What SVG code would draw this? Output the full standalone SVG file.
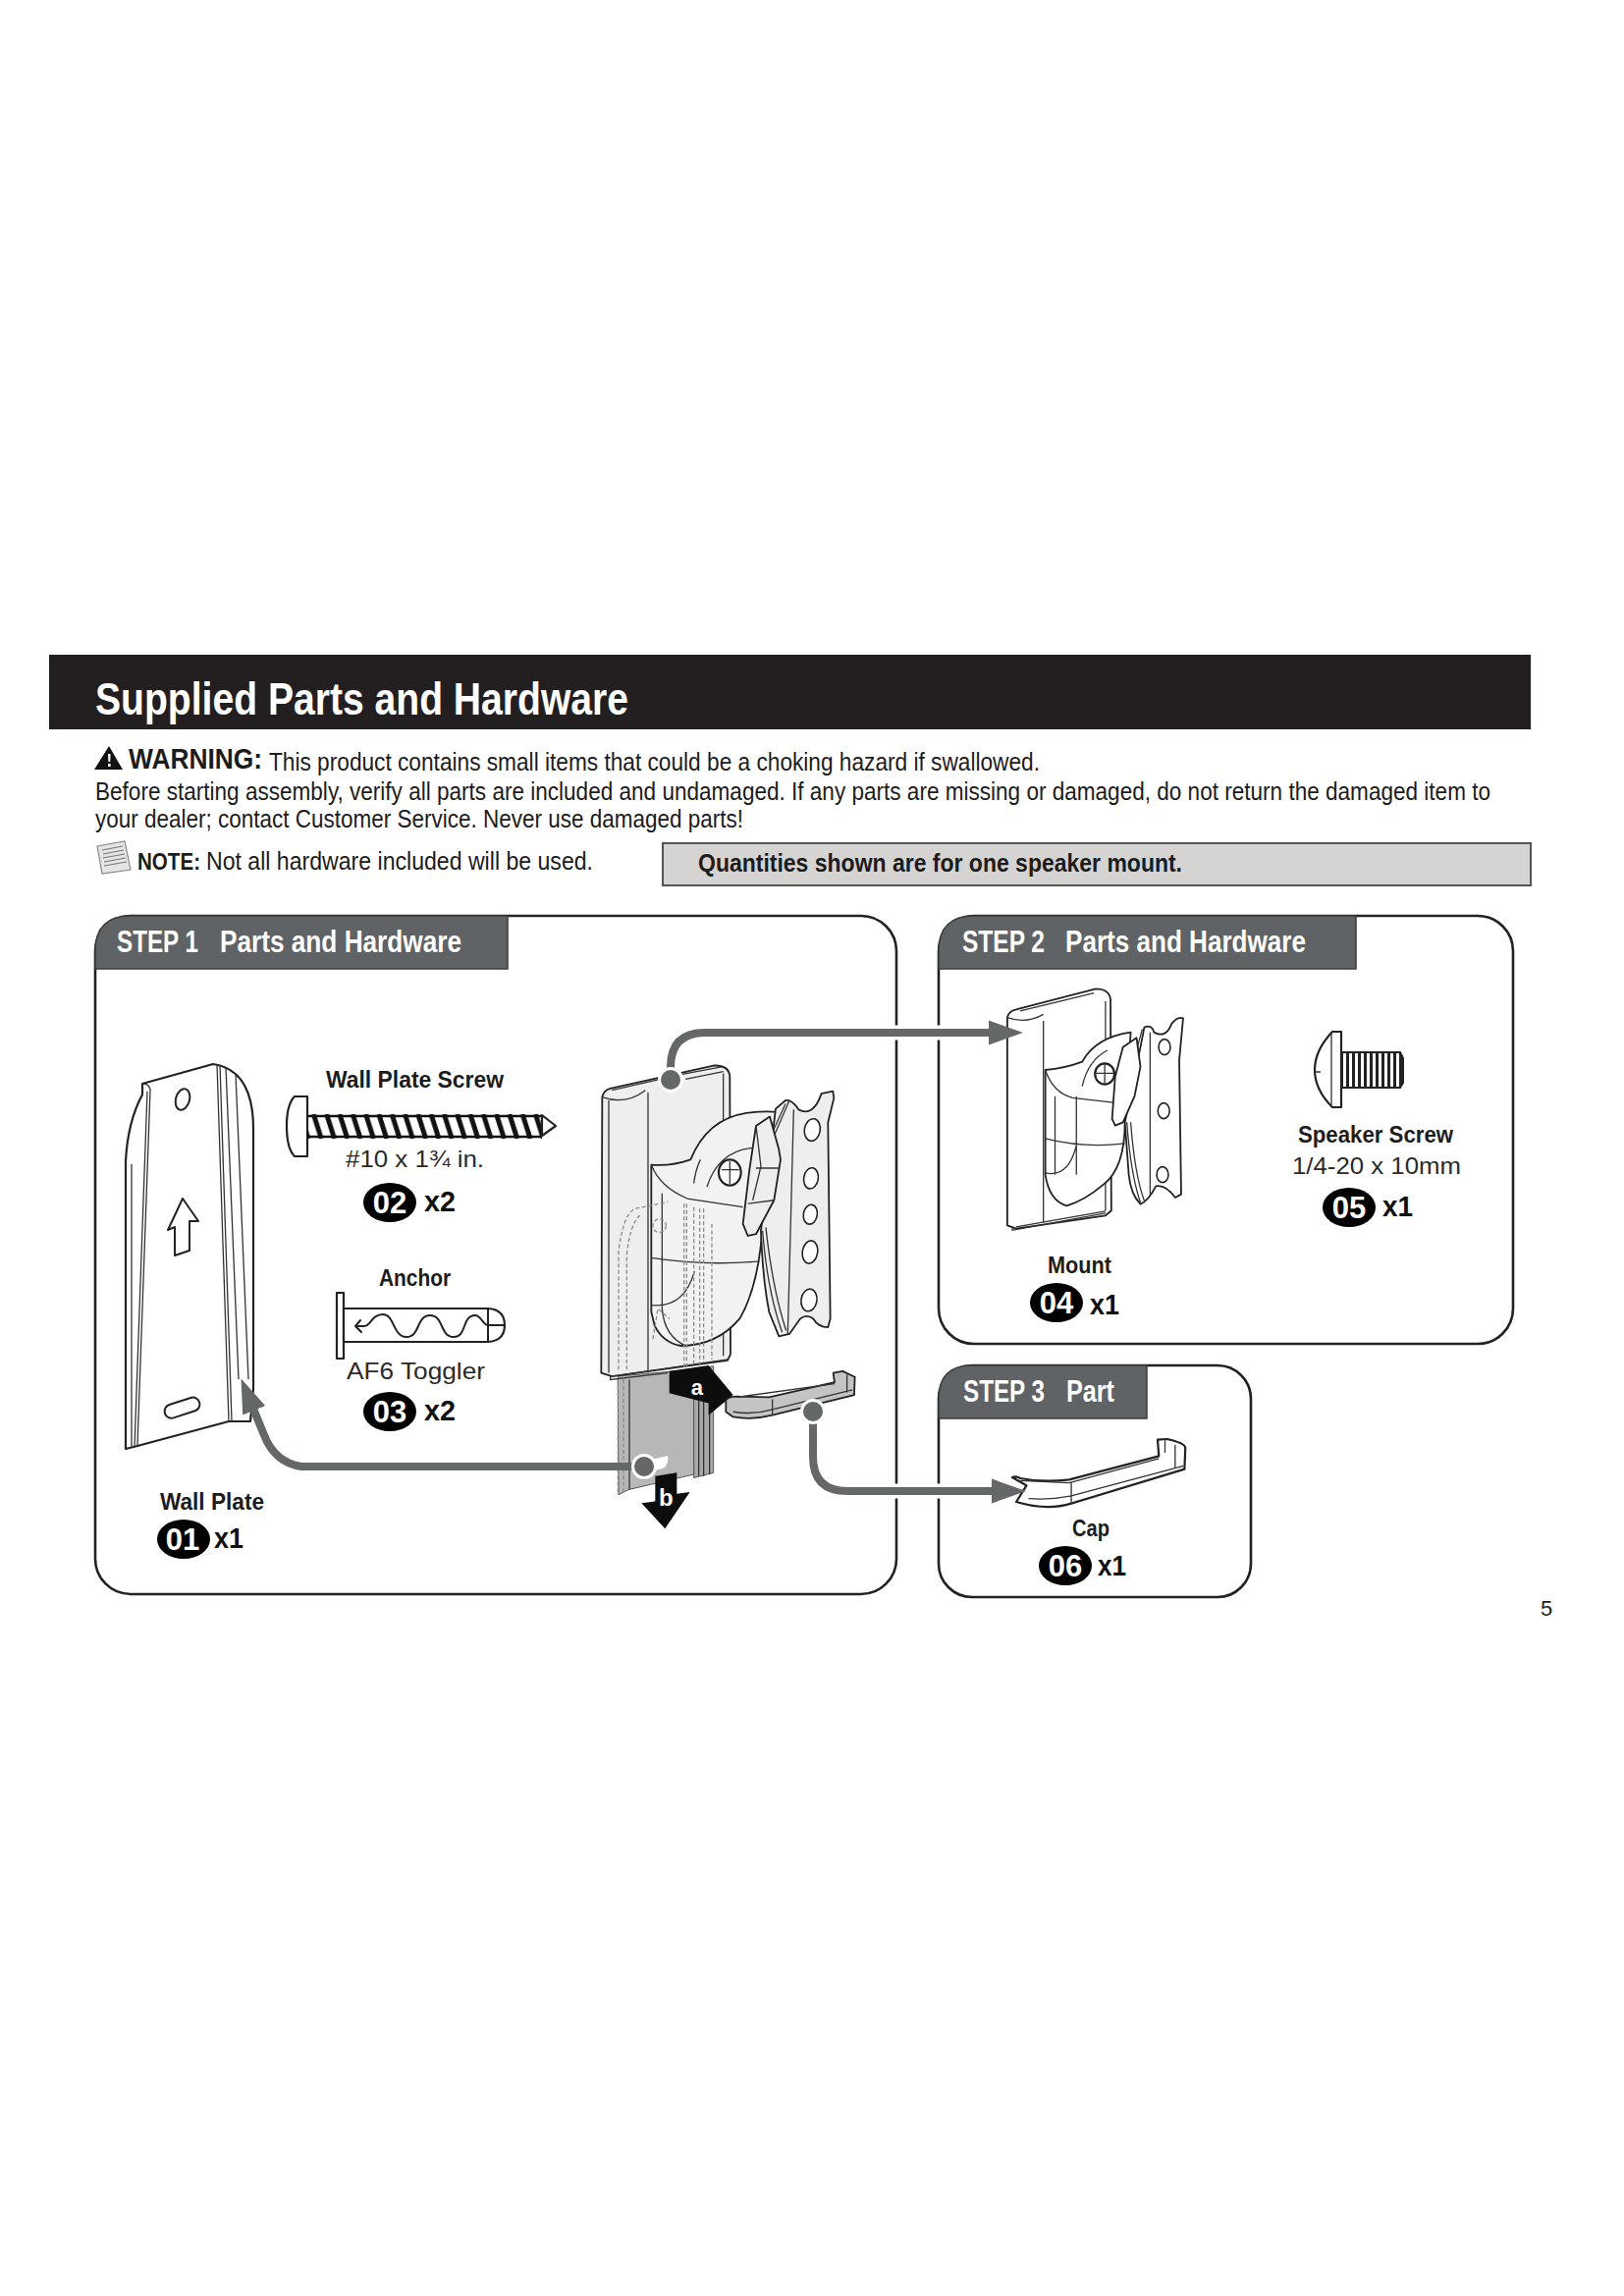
<svg xmlns="http://www.w3.org/2000/svg" width="1654" height="2339" viewBox="0 0 1654 2339">
<style>
text{font-family:"Liberation Sans",Arial,sans-serif;fill:#1c1c1c}
.b{font-weight:700}
.w{fill:#fff;font-weight:700}
.title{font-size:46px}
.body{font-size:23.5px}
.tabt{font-size:32px}
.lab{font-size:24px;font-weight:700}
.sub{font-size:24px;fill:#2a2a2a}
.num{font-size:31px;font-weight:700;fill:#fff;text-anchor:middle}
.qty{font-size:30px;font-weight:700;fill:#111}
.panel{fill:#fff;stroke:#222;stroke-width:2.6}
.tab{fill:#5f6365;stroke:#3a3c3d;stroke-width:1.5}
.badge{fill:#000}
.ln{fill:none;stroke:#222;stroke-width:2;stroke-linejoin:round;stroke-linecap:round}
.thin{fill:none;stroke:#333;stroke-width:1.3}
.pl{fill:#fff;stroke:#222;stroke-width:2.2;stroke-linejoin:round}
.m{fill:#eeeeee;stroke:#222;stroke-width:1.8;stroke-linejoin:round}
.dash{fill:none;stroke:#8a8a8a;stroke-width:1.3;stroke-dasharray:4 2.5}
.halo{fill:none;stroke:#fff;stroke-width:15}
.conn{fill:none;stroke:#646869;stroke-width:8}
.dot{fill:#646869;stroke:#fff;stroke-width:3}
#mount-assembly path,#mount-assembly ellipse,#mount-assembly circle,#mount path,#mount ellipse,#cap path{vector-effect:non-scaling-stroke}
</style>
<defs>
<marker id="ah" markerUnits="userSpaceOnUse" markerWidth="36" markerHeight="28" refX="2" refY="14" orient="auto">
<path d="M0,1.5L35,14L0,26.5Z" fill="#646869"/>
</marker>
<pattern id="thread" patternUnits="userSpaceOnUse" x="313" y="1135" width="13.3" height="25">
<path d="M-7,0L1,25M6.3,0L14.3,25" stroke="#111" stroke-width="5" fill="none"/>
</pattern>
<pattern id="mthread" patternUnits="userSpaceOnUse" x="1371" y="1070" width="6" height="40">
<rect width="6" height="40" fill="#fff"/><rect width="3" height="40" fill="#222"/>
</pattern>
</defs>
<rect width="1654" height="2339" fill="#fff"/>

<g id="header">
<rect x="50" y="667" width="1509" height="76" fill="#231f20"/>
<text class="title b" x="97" y="728" style="fill:#fff" textLength="543" lengthAdjust="spacingAndGlyphs">Supplied Parts and Hardware</text>
</g>

<g id="warning">
<path d="M111,760L125,784H96Z" fill="#111"/><path d="M110,768h2.6l-.4,8h-1.8ZM110,778h2.6v3h-2.6Z" fill="#fff"/>
<text class="b" transform="translate(131 783) scale(1 1.16)" font-size="26" textLength="136" lengthAdjust="spacingAndGlyphs">WARNING:</text>
<text class="body" transform="translate(274 785) scale(1 1.06)" textLength="785" lengthAdjust="spacingAndGlyphs">This product contains small items that could be a choking hazard if swallowed.</text>
<text class="body" transform="translate(97 815) scale(1 1.06)" textLength="1421" lengthAdjust="spacingAndGlyphs">Before starting assembly, verify all parts are included and undamaged. If any parts are missing or damaged, do not return the damaged item to</text>
<text class="body" transform="translate(97 843) scale(1 1.06)" textLength="660" lengthAdjust="spacingAndGlyphs">your dealer; contact Customer Service. Never use damaged parts!</text>
</g>

<g id="note">
<path d="M99,862L127,857L133,886L104,890Z" fill="#e4e4e4" stroke="#888" stroke-width="1.2"/>
<path d="M104,866L125,862M105,870L126,866M105,874L127,870M106,878L128,874M106,882L129,878" stroke="#777" stroke-width="1.2" fill="none"/>
<text class="b" transform="translate(140 886) scale(1 1.2)" font-size="20.5" textLength="64" lengthAdjust="spacingAndGlyphs">NOTE:</text>
<text class="body" transform="translate(210 886) scale(1 1.06)" textLength="394" lengthAdjust="spacingAndGlyphs">Not all hardware included will be used.</text>
</g>

<g id="quantities">
<rect x="675" y="859" width="884" height="43" fill="#d6d4d2" stroke="#555" stroke-width="2"/>
<text class="b" x="711" y="888" font-size="25" textLength="493" lengthAdjust="spacingAndGlyphs">Quantities shown are for one speaker mount.</text>
</g>

<g id="step1">
<rect class="panel" x="97" y="933" width="816" height="691" rx="36"/>
<path class="tab" d="M97,987V969Q97,933 133,933H517V987Z"/>
<text class="w tabt" x="119" y="970" textLength="83" lengthAdjust="spacingAndGlyphs">STEP 1</text>
<text class="w tabt" x="224" y="970" textLength="246" lengthAdjust="spacingAndGlyphs">Parts and Hardware</text>
</g>
<g id="step2">
<rect class="panel" x="956" y="933" width="585" height="436" rx="36"/>
<path class="tab" d="M956,987V969Q956,933 992,933H1381V987Z"/>
<text class="w tabt" x="980" y="970" textLength="84" lengthAdjust="spacingAndGlyphs">STEP 2</text>
<text class="w tabt" x="1085" y="970" textLength="245" lengthAdjust="spacingAndGlyphs">Parts and Hardware</text>
</g>
<g id="step3">
<rect class="panel" x="956" y="1391" width="318" height="236" rx="34"/>
<path class="tab" d="M956,1445V1425Q956,1391 990,1391H1168V1445Z"/>
<text class="w tabt" x="981" y="1428" textLength="83" lengthAdjust="spacingAndGlyphs">STEP 3</text>
<text class="w tabt" x="1086" y="1428" textLength="49" lengthAdjust="spacingAndGlyphs">Part</text>
</g>

<g id="wall-plate">
<path class="pl" d="M145,1104L217,1084Q258,1090 258,1150V1415L255,1448H233L140,1473L128,1476V1183Q130,1143 145,1115Z"/>
<path class="thin" d="M153,1110L140,1472M150,1112L137,1474M134,1186V1475M221,1084L233,1448M224,1085L236,1448M230,1087L243,1405M240,1094L253,1405M145,1104Q152,1104 153,1110"/>
<ellipse class="ln" cx="186" cy="1120" rx="7" ry="11" transform="rotate(15 186 1120)"/>
<path class="ln" d="M186,1221L202,1244H193V1274L178,1279V1250L171,1253Z"/>
<rect class="ln" x="167" y="1427" width="37" height="14" rx="7" transform="rotate(-18 186 1434)"/>
<text class="lab" x="163" y="1538" textLength="106" lengthAdjust="spacingAndGlyphs">Wall Plate</text>
<ellipse class="badge" cx="187" cy="1568" rx="27" ry="20"/>
<text class="num" x="186" y="1579">01</text>
<text class="qty" x="218" y="1577" textLength="30" lengthAdjust="spacingAndGlyphs">x1</text>
</g>

<g id="wall-plate-screw">
<text class="lab" x="332" y="1108" textLength="181" lengthAdjust="spacingAndGlyphs">Wall Plate Screw</text>
<path class="pl" d="M313,1117H300Q292,1125 292,1147Q292,1170 300,1178H313Z"/>
<rect x="313" y="1135" width="239" height="25" fill="url(#thread)"/>
<path d="M313,1137H552M313,1158H552" stroke="#111" stroke-width="2.5"/>
<path class="pl" d="M552,1136L566,1147L552,1157Z" stroke-width="1.8"/>
<text class="sub" x="352" y="1189" textLength="141" lengthAdjust="spacingAndGlyphs">#10 x 1¾ in.</text>
<ellipse class="badge" cx="397" cy="1225" rx="27" ry="20"/>
<text class="num" x="397" y="1236">02</text>
<text class="qty" x="432" y="1234" textLength="32" lengthAdjust="spacingAndGlyphs">x2</text>
</g>

<g id="anchor">
<text class="lab" x="386" y="1310" textLength="73" lengthAdjust="spacingAndGlyphs">Anchor</text>
<rect class="pl" x="343" y="1317" width="7" height="67"/>
<path class="pl" d="M350,1333H497Q514,1334 514,1350Q514,1366 497,1367H350Z"/>
<path class="ln" d="M497,1333V1367M497,1350H514M367,1345L362,1351L368,1357M364,1351H371C378,1351 378,1339 390,1339C402,1339 400,1362 414,1362C428,1362 424,1340 438,1340C452,1340 448,1362 462,1362C476,1362 470,1340 484,1340C490,1340 492,1350 497,1350"/>
<text class="sub" x="353" y="1405" textLength="141" lengthAdjust="spacingAndGlyphs">AF6 Toggler</text>
<ellipse class="badge" cx="397" cy="1438" rx="27" ry="20"/>
<text class="num" x="397" y="1449">03</text>
<text class="qty" x="432" y="1447" textLength="32" lengthAdjust="spacingAndGlyphs">x2</text>
</g>

<g id="mount-assembly" transform="translate(580 1040) scale(.3333 .3448)">
<path d="M148,1050L380,1030V1340L180,1385L150,1400Z" fill="#b7b7b7" stroke="#555" stroke-width="1"/>
<path d="M380,1030L440,1020V1335L380,1350Z" fill="#a8a8a8" stroke="#555" stroke-width="1"/>
<path class="thin" d="M183,1060V1385M395,1025V1345M410,1025V1345M428,1022V1340"/>
<path d="M148,1060V1400M165,1060V1395" class="dash"/>
<path d="M255,1295L300,1285Q305,1305 290,1320L240,1335Z" fill="#fff"/>
<path class="m" d="M100,225Q105,205 125,200L440,132Q488,130 490,165L492,985L483,1003L130,1050L97,1040Z"/>
<path class="thin" d="M100,225Q170,250 232,205M240,212V1040M470,155V990M125,1050V1060L300,1040M120,235V1040M130,205L278,172M345,158L468,135M355,172L470,150M130,1050L483,1000"/>
<path class="m" style="fill:#f2f2f2" d="M250,425Q310,430 370,410Q420,290 540,272Q600,265 640,270L590,600Q580,780 520,880Q450,960 340,960Q285,950 260,900L250,860Z"/>
<path class="thin" d="M250,425Q275,490 360,525L530,550M283,510V850Q290,935 360,962M250,700Q420,725 580,710M250,840Q350,850 382,740M380,480Q385,440 400,410M420,490Q455,385 560,375"/>
<path class="dash" d="M150,1030V680Q165,570 200,555L300,535M175,1030V690Q185,600 215,575M350,540V1030M380,550V1020M410,555V1010M435,600V1000M255,940L270,850L305,880M358,540V1030M398,555V1015"/>
<circle class="dash" cx="275" cy="605" r="20"/>
<path class="m" d="M660,235Q680,232 700,262Q745,285 770,215L805,208L808,228L790,300L797,880L790,905Q760,905 745,880Q725,865 705,880L672,925L640,932L610,860Q590,760 585,620L630,260Z"/>
<path class="thin" d="M685,262L667,925M590,620Q605,800 650,920M600,610Q620,790 662,915M672,235L625,340M660,245L620,330"/>
<path class="m" d="M530,600L550,440L570,310L612,283L640,380L645,410L625,530L570,630L545,635Z"/>
<path class="thin" d="M570,435H640M545,540L625,530M570,310L585,430L560,530"/>
<ellipse class="pl" cx="490" cy="448" rx="34" ry="38"/>
<path class="thin" d="M465,440H518M490,415V482"/>
<g class="pl" style="stroke-width:1.6"><ellipse cx="742" cy="322" rx="24" ry="33" transform="rotate(10 742 322)"/><ellipse cx="738" cy="465" rx="22" ry="31" transform="rotate(10 738 465)"/><ellipse cx="736" cy="572" rx="21" ry="29" transform="rotate(10 736 572)"/><ellipse cx="735" cy="683" rx="23" ry="34" transform="rotate(10 735 683)"/><ellipse cx="732" cy="825" rx="24" ry="33" transform="rotate(10 732 825)"/></g>
<path d="M305,1035L425,1018L500,1105L425,1165V1130L305,1100Z" fill="#0d0d0d"/>
<text x="390" y="1105" class="w" font-size="66" text-anchor="middle" style="fill:#fff">a</text>
<path class="m" style="fill:#c4c4c4" d="M478,1120Q490,1108 520,1110L610,1112L810,1068L806,1040L835,1035L872,1052L870,1105L620,1165Q560,1180 500,1170L478,1155Z"/>
<path class="thin" d="M620,1118V1165M500,1155Q560,1165 620,1148L865,1090M848,1045V1098M510,1112L810,1072"/>
<path d="M262,1345L328,1335V1397L368,1392L292,1500L220,1425L262,1420Z" fill="#0d0d0d"/>
<text x="295" y="1432" class="w" font-size="72" text-anchor="middle" style="fill:#fff">b</text>
</g>

<g id="mount" transform="translate(950 930) scale(.3953 .3333)">
<path class="m" style="fill:#fff" d="M192,320Q195,300 215,295L420,232Q455,232 458,265L460,910L445,925L215,965L192,955Z"/>
<path class="thin" d="M192,320Q240,340 285,310M285,330V945M445,270V910M225,300L415,245M205,960V970L445,918M215,960L445,912"/>
<path class="m" style="fill:#fff" d="M290,480Q340,475 385,455Q420,380 510,365L495,640Q495,780 440,830Q390,880 345,895Q300,880 290,800Z"/>
<path class="thin" d="M290,480Q310,550 360,565L470,580M315,560V800M370,560V800M290,690Q390,720 495,705M290,795Q350,810 370,710M385,530Q400,450 450,420"/>
<path class="m" style="fill:#fff" d="M545,350Q565,340 570,365Q600,385 615,340Q630,315 645,322L635,450L640,860L625,870Q600,830 575,835Q555,880 535,890Q510,860 505,800L495,640L530,440Z"/>
<path class="thin" d="M560,365V860M500,640Q510,800 535,885M510,640Q520,800 545,880M540,355L520,440"/>
<path class="m" style="fill:#fff" d="M462,630L470,500L490,410L525,382L535,470L520,560L490,640L470,650Z"/>
<ellipse class="pl" cx="443" cy="492" rx="25" ry="32"/>
<path class="thin" d="M420,490H466M443,462V522"/>
<g class="pl" style="stroke-width:1.6"><ellipse cx="597" cy="410" rx="15" ry="24"/><ellipse cx="595" cy="605" rx="15" ry="24"/><ellipse cx="592" cy="800" rx="15" ry="24"/></g>
</g>
<g id="mount-label">
<text class="lab" x="1067" y="1297" textLength="65" lengthAdjust="spacingAndGlyphs">Mount</text>
<ellipse class="badge" cx="1076" cy="1327" rx="27" ry="20"/>
<text class="num" x="1076" y="1338">04</text>
<text class="qty" x="1110" y="1339" textLength="30" lengthAdjust="spacingAndGlyphs">x1</text>
</g>

<g id="speaker-screw">
<path class="pl" d="M1366,1051H1357Q1339,1070 1339,1090Q1339,1110 1357,1128H1366Z"/>
<path class="thin" d="M1339,1092H1345M1356,1052V1127"/>
<path d="M1366,1072H1426L1429,1078V1103L1426,1108H1366Z" fill="url(#mthread)" stroke="#222" stroke-width="2"/>
<text class="lab" x="1322" y="1164" textLength="158" lengthAdjust="spacingAndGlyphs">Speaker Screw</text>
<text class="sub" x="1316" y="1196" textLength="172" lengthAdjust="spacingAndGlyphs">1/4-20 x 10mm</text>
<ellipse class="badge" cx="1374" cy="1230" rx="27" ry="20"/>
<text class="num" x="1374" y="1241">05</text>
<text class="qty" x="1408" y="1239" textLength="31" lengthAdjust="spacingAndGlyphs">x1</text>
</g>

<g id="cap" transform="translate(950 1380) scale(.4149 .3333)">
<path class="pl" d="M195,375Q205,370 215,378Q270,392 335,382L555,310L552,260L575,258Q620,270 620,285L618,350L340,455Q280,478 205,450L230,400Z"/>
<path class="thin" d="M340,388V455M235,440Q290,445 340,432L615,340M595,275V345M570,262V300M215,385L335,392L555,318"/>
</g>
<g id="cap-label">
<text class="lab" x="1092" y="1565" textLength="38" lengthAdjust="spacingAndGlyphs">Cap</text>
<ellipse class="badge" cx="1085" cy="1595" rx="27" ry="20"/>
<text class="num" x="1085" y="1606">06</text>
<text class="qty" x="1118" y="1605" textLength="29" lengthAdjust="spacingAndGlyphs">x1</text>
</g>

<g id="connectors">
<path class="halo" d="M900,1052H1000M900,1519H1000"/>
<path class="conn" d="M683,1100V1087Q683,1052 718,1052H1009" marker-end="url(#ah)"/>
<circle class="dot" cx="683" cy="1100" r="11.5"/>
<path class="conn" d="M656,1494H307Q280,1490 269,1462L258,1435" marker-end="url(#ah)"/>
<circle class="dot" cx="656" cy="1494" r="11.5"/>
<path class="conn" d="M828,1438V1484Q828,1519 863,1519H1012" marker-end="url(#ah)"/>
<circle class="dot" cx="828" cy="1438" r="11.5"/>
</g>

<text id="page-number" x="1569" y="1646" font-size="22" fill="#222">5</text>
</svg>
